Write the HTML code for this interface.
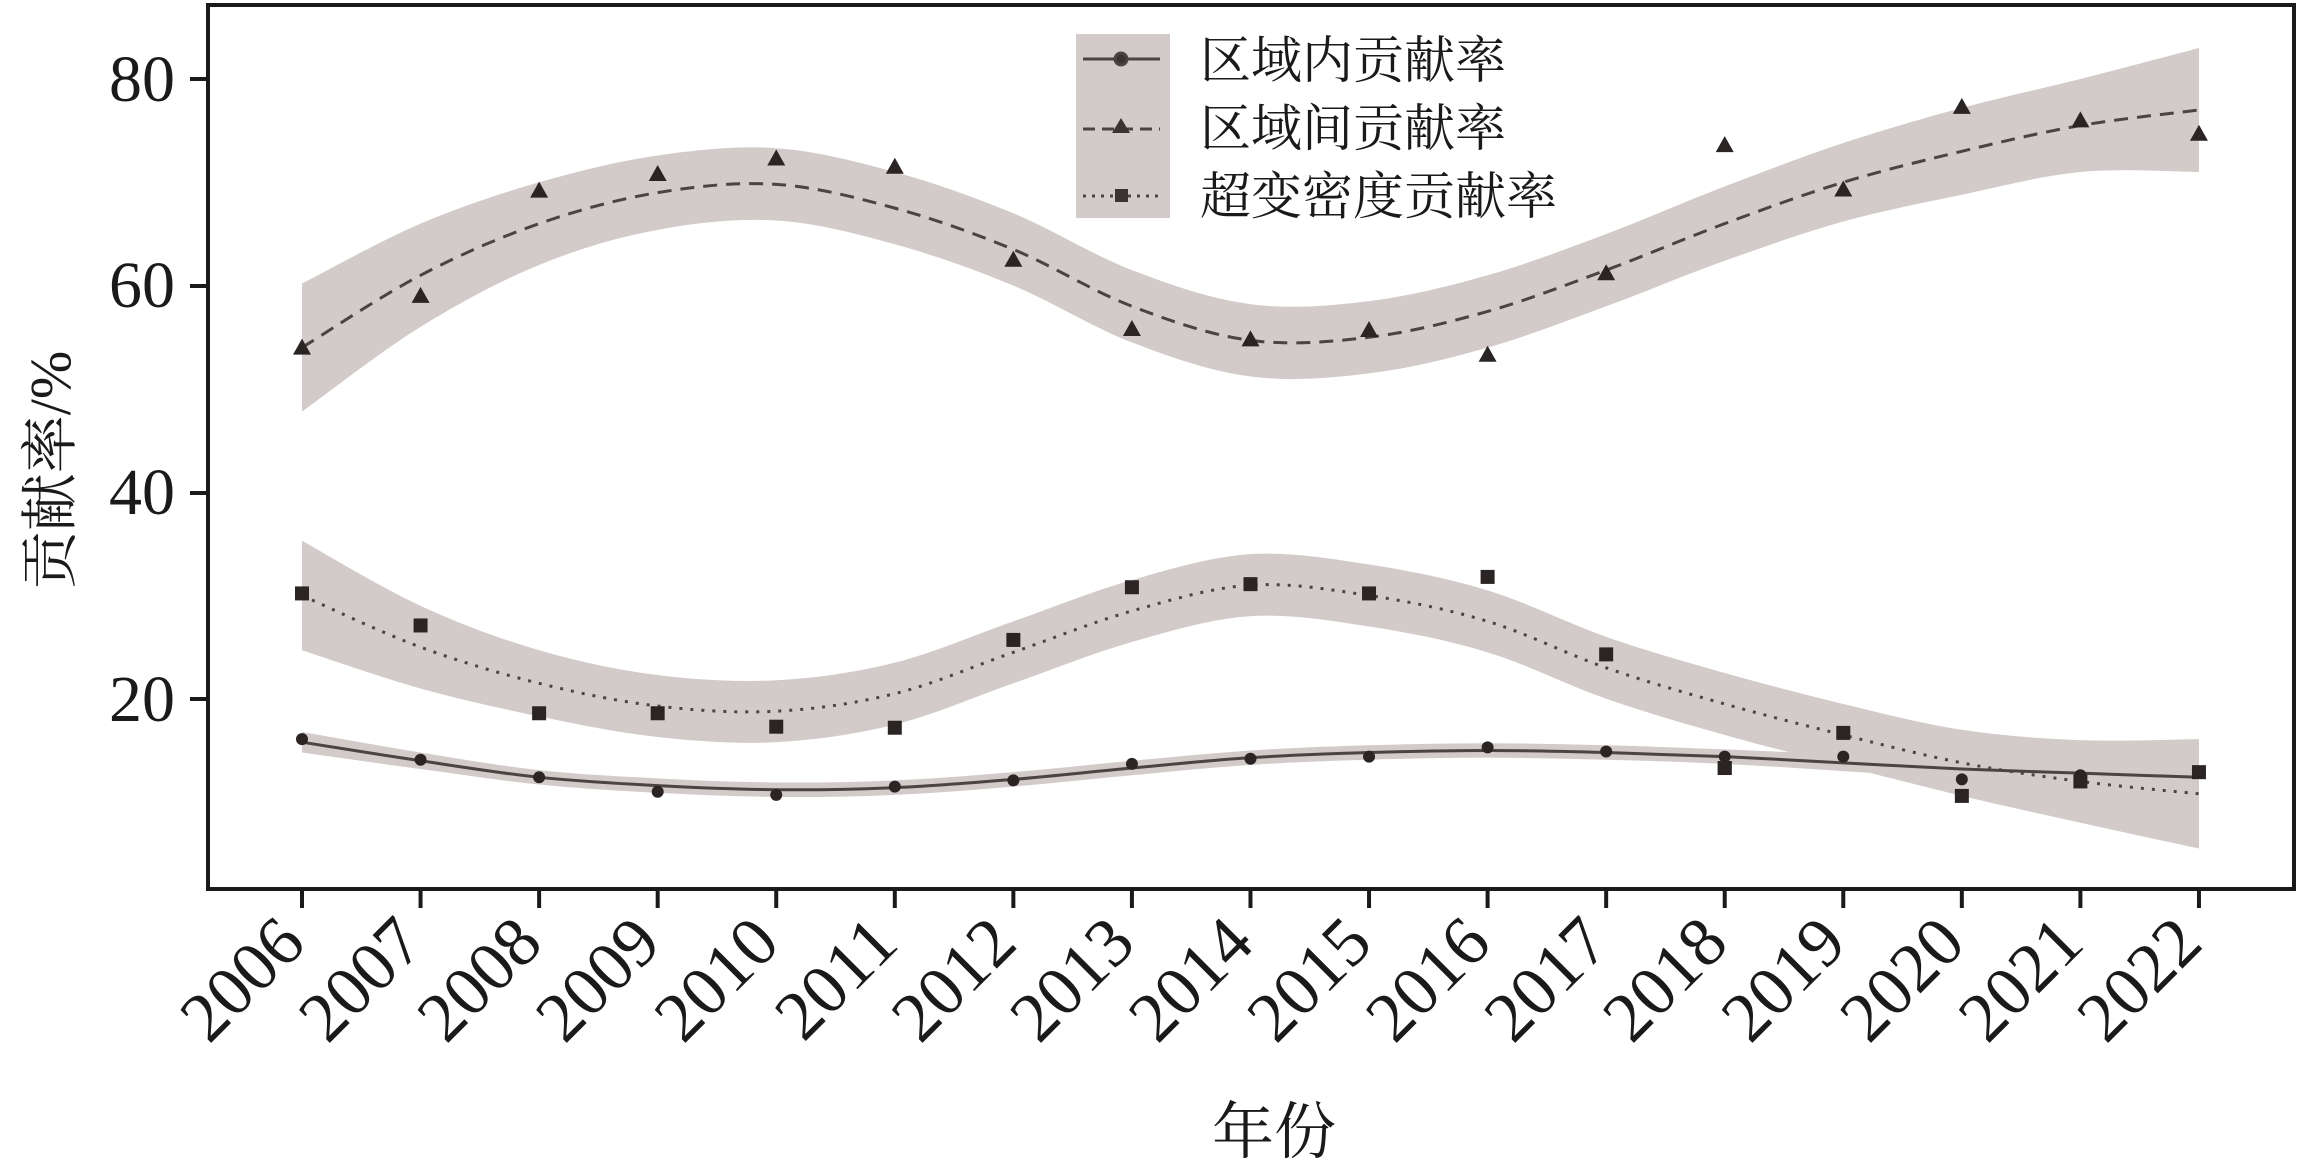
<!DOCTYPE html>
<html><head><meta charset="utf-8"><style>
html,body{margin:0;padding:0;background:#fff;}
svg{display:block;font-family:"Liberation Serif","Noto Serif CJK SC",serif;}
text{font-family:"Liberation Serif","Noto Serif CJK SC",serif;}
</style></head><body>
<svg id="s" width="2302" height="1171" xmlns="http://www.w3.org/2000/svg">
<rect width="2302" height="1171" fill="#fff"/>
<g id="bands"></g>
<g id="lines"></g>
<g id="pts"></g>
<rect x="208" y="5" width="2086" height="884" fill="none" stroke="#1a1a1a" stroke-width="4"/>
<g id="ticks" stroke="#1a1a1a" stroke-width="4"></g>
<g id="ylab" font-size="66" fill="#1a1a1a" text-anchor="end">
<text x="175" y="101">80</text>
<text x="175" y="307">60</text>
<text x="175" y="514">40</text>
<text x="175" y="721">20</text>
</g>
<g id="xlab" font-size="70" fill="#1a1a1a" text-anchor="end"></g>
<text x="1274" y="1153" font-size="62" text-anchor="middle" fill="#1a1a1a">年份</text>
<text transform="translate(70,470) rotate(-90)" font-size="58" text-anchor="middle" fill="#1a1a1a">贡献率/%</text>
<rect x="1076" y="34" width="94" height="184" fill="#d3cbc9"/>
<g stroke="#4a4444" stroke-width="3" fill="#3a3333">
<line x1="1083" y1="59" x2="1160" y2="59"/><circle cx="1121" cy="59" r="6"/>
<line x1="1083" y1="129" x2="1160" y2="129" stroke-dasharray="12,7"/><polygon points="1121,118 1112,133 1130,133" stroke="none"/>
<line x1="1083" y1="196" x2="1160" y2="196" stroke-dasharray="3,6"/><rect x="1115" y="189" width="13" height="13" stroke="none"/>
</g>
<g font-size="51" fill="#1a1a1a">
<text x="1200" y="78">区域内贡献率</text>
<text x="1200" y="146">区域间贡献率</text>
<text x="1200" y="214">超变密度贡献率</text>
</g>
</svg>
<script>
var NS="http://www.w3.org/2000/svg";
function X(i){return 302+i*118.56;}
function Y(v){return 79+(80-v)*10.33;}
function el(t,a,p){var e=document.createElementNS(NS,t);for(var k in a)e.setAttribute(k,a[k]);document.getElementById(p).appendChild(e);return e;}
function cr(pts){var d="M"+pts[0][0]+","+pts[0][1];for(var i=0;i<pts.length-1;i++){var p0=pts[i-1]||pts[i],p1=pts[i],p2=pts[i+1],p3=pts[i+2]||p2;
d+=" C"+(p1[0]+(p2[0]-p0[0])/6)+","+(p1[1]+(p2[1]-p0[1])/6)+" "+(p2[0]-(p3[0]-p1[0])/6)+","+(p2[1]-(p3[1]-p1[1])/6)+" "+p2[0]+","+p2[1];}return d;}
function crNoM(pts){return cr(pts).replace(/^M[^ ]*/,"");}
var series=[
{fit:[54,61,66,69,69.8,67.5,63.5,58,54.7,55,57.5,61.5,66,70,73,75.5,77],hw:[6.2,5,4,3.6,3.5,3.5,3.5,3.5,3.5,3.5,3.5,3.5,3.6,3.8,4.2,4.5,6],
 pts:[54,59,69.2,70.8,72.3,71.5,62.5,55.8,54.8,55.7,53.3,61.2,73.6,69.3,77.3,76,74.7],dash:"14,9",mk:"tri"},
{fit:[30,25,21.5,19.3,18.8,20.5,24.5,28.5,31,30,27.5,23,19.5,16.5,13.8,12,10.8],hw:[5.3,4,3.2,3,3,3,3,3,3,3,3,3,3,3,3.2,4,5.3],
 pts:[30.2,27.1,18.6,18.6,17.3,17.2,25.7,30.8,31.1,30.2,31.8,24.3,13.3,16.7,10.6,12,12.9],dash:"3,8",mk:"sq"},
{fit:[15.8,14,12.4,11.6,11.2,11.4,12.2,13.3,14.3,14.8,15,14.8,14.4,13.8,13.2,12.8,12.4],hw:[1,0.8,0.7,0.7,0.7,0.7,0.7,0.7,0.7,0.7,0.7,0.7,0.7,0.8,0.9,1.1,1.5],
 pts:[16.1,14.1,12.4,11,10.7,11.5,12.1,13.7,14.2,14.4,15.3,14.9,null,14.4,12.2,12.6,null],dash:"",mk:"ci"}
];
series.forEach(function(s){
 var up=s.fit.map(function(v,i){return [X(i),Y(v+s.hw[i])];});
 var lo=s.fit.map(function(v,i){return [X(i),Y(v-s.hw[i])];}).reverse();
 el("path",{d:cr(up)+" L"+lo[0][0]+","+lo[0][1]+crNoM(lo)+" Z",fill:"#d3cbc9"},"bands");
});
series.forEach(function(s){
 var c=s.fit.map(function(v,i){return [X(i),Y(v)];});
 var a={d:cr(c),fill:"none",stroke:"#4a4444","stroke-width":3};if(s.dash)a["stroke-dasharray"]=s.dash;
 el("path",a,"lines");
 s.pts.forEach(function(v,i){if(v===null)return;var x=X(i),y=Y(v);
  if(s.mk=="tri")el("polygon",{points:x+","+(y-9)+" "+(x-9)+","+(y+7)+" "+(x+9)+","+(y+7),fill:"#2a2424"},"pts");
  else if(s.mk=="sq")el("rect",{x:x-7,y:y-7,width:14,height:14,fill:"#2a2424"},"pts");
  else el("circle",{cx:x,cy:y,r:6,fill:"#2a2424"},"pts");});
});
el("circle",{cx:X(12),cy:Y(14.4),r:6,fill:"#2a2424"},"pts");
el("rect",{x:X(12)-7,y:Y(13.3)-7,width:14,height:14,fill:"#2a2424"},"pts");
[79,286,493,699].forEach(function(y){el("line",{x1:190,y1:y,x2:208,y2:y},"ticks");});
for(var i=0;i<17;i++){var x=X(i);el("line",{x1:x,y1:889,x2:x,y2:908},"ticks");
 var t=el("text",{transform:"translate("+(x+6)+",946) rotate(-45)"},"xlab");t.textContent=String(2006+i);}
</script>
</body></html>
